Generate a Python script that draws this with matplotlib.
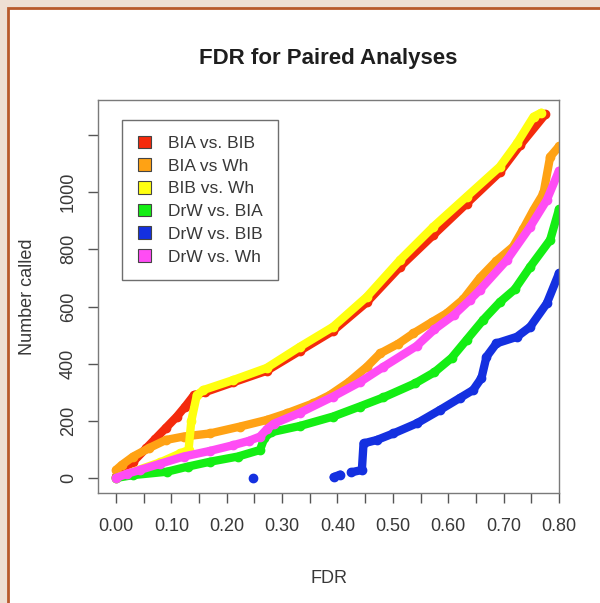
"""FDR for paired analyses: number of calls vs. FDR for six comparisons."""

import matplotlib

matplotlib.use("Agg")
import matplotlib.pyplot as plt
from matplotlib.patches import Patch, Rectangle
import numpy as np

plt.rcParams["font.family"] = ["Liberation Sans", "DejaVu Sans"]

SERIES_NAMES = ["BIA vs. BIB", "BIA vs Wh", "BIB vs. Wh", "DrW vs. BIA", "DrW vs. BIB", "DrW vs. Wh"]
SERIES_COLORS = ["#f42a0c", "#ffa214", "#ffff10", "#14ee14", "#1430e0", "#ff4cf4"]

# one (fdr, count) list per comparison
bia_bib_fdr = [0.0, 0.03, 0.055, 0.07, 0.09, 0.11, 0.125, 0.141, 0.16, 0.212, 0.272, 0.332, 0.392,
               0.453, 0.513, 0.573, 0.633, 0.693, 0.73, 0.775]
bia_bib_n = [5, 55, 105, 135, 175, 215, 250, 290, 300, 335, 375, 445, 515,
             615, 739, 850, 960, 1070, 1165, 1272]

bia_wh_fdr = [0.0, 0.01, 0.031, 0.06, 0.09, 0.122, 0.17, 0.224, 0.272, 0.308, 0.356, 0.386, 0.42,
              0.453, 0.477, 0.51, 0.537, 0.57, 0.597, 0.627, 0.657, 0.687, 0.717, 0.735, 0.754,
              0.772, 0.784, 0.80]
bia_wh_n = [28, 45, 75, 105, 133, 145, 156, 180, 203, 226, 261, 290, 335,
            389, 436, 470, 506, 545, 576, 625, 700, 760, 809, 870, 938,
            996, 1124, 1160]

bib_wh_fdr = [0.0, 0.031, 0.08, 0.116, 0.131, 0.136, 0.146, 0.158, 0.212, 0.272, 0.332, 0.392,
              0.453, 0.513, 0.573, 0.633, 0.693, 0.724, 0.754, 0.768]
bib_wh_n = [0, 22, 55, 86, 98, 200, 290, 308, 343, 385, 459, 529,
            634, 763, 879, 984, 1089, 1171, 1264, 1278]

drw_bia_fdr = [0.0, 0.03, 0.092, 0.13, 0.17, 0.22, 0.26, 0.268, 0.28, 0.332, 0.392, 0.44, 0.483,
               0.54, 0.575, 0.606, 0.633, 0.663, 0.693, 0.72, 0.748, 0.784, 0.80]
drw_bia_n = [0, 10, 22, 40, 57, 75, 98, 140, 160, 182, 215, 250, 282,
             331, 370, 420, 483, 553, 615, 660, 739, 833, 940]

# NaN splits the lone early point and the first small cluster from the rest
drw_bib_fdr = [0.248, np.nan, 0.393, 0.405, np.nan, 0.425, 0.444, 0.447, 0.471, 0.501, 0.543, 0.585,
               0.621, 0.645, 0.66, 0.669, 0.687, 0.724, 0.748, 0.778, 0.80]
drw_bib_n = [0, np.nan, 3, 12, np.nan, 20, 28, 121, 133, 156, 191, 238,
             280, 308, 350, 424, 471, 494, 529, 611, 716]

drw_wh_fdr = [0.0, 0.02, 0.043, 0.08, 0.122, 0.17, 0.212, 0.24, 0.26, 0.272, 0.285, 0.332, 0.392,
              0.44, 0.483, 0.543, 0.575, 0.61, 0.639, 0.657, 0.706, 0.748, 0.778, 0.80]
drw_wh_n = [0, 15, 28, 50, 75, 95, 115, 130, 145, 170, 190, 228, 285,
            335, 389, 462, 520, 570, 623, 658, 763, 879, 973, 1075]

SERIES = [
    (bia_bib_fdr, bia_bib_n),
    (bia_wh_fdr, bia_wh_n),
    (bib_wh_fdr, bib_wh_n),
    (drw_bia_fdr, drw_bia_n),
    (drw_bib_fdr, drw_bib_n),
    (drw_wh_fdr, drw_wh_n),
]

x_ticks = np.round(np.arange(0, 0.801, 0.05), 2)
x_labels = [f"{t:.2f}" if round(t * 100) % 10 == 0 else "" for t in x_ticks]
y_ticks = [0, 200, 400, 600, 800, 1000, 1200]
y_labels = ["0", "200", "400", "600", "800", "1000", ""]

TEXT = "#383838"
AXIS = "#7a7a7a"

fig = plt.figure(figsize=(6.0, 6.03), dpi=100, facecolor="#eedfd4")
# white panel with brown border on left and top, kept behind the axes
fig.patches.append(Rectangle((8 / 600, -0.05), 1.1, 1 - 8 / 603 + 0.05, transform=fig.transFigure,
                             facecolor="white", edgecolor="#b85a2c", linewidth=2.0, zorder=-10))

ax = fig.add_axes([98 / 600, 1 - 493 / 603, 461 / 600, 393 / 603])
ax.set_zorder(1)
ax.set_facecolor("white")

for (fdr, counts), color in zip(SERIES, SERIES_COLORS):
    ax.plot(fdr, counts, color=color, linewidth=6, marker="o", markersize=6,
            solid_capstyle="round", solid_joinstyle="round")

ax.set_xlim(-0.0325, 0.80)
ax.set_ylim(-52.5, 1322.6)
ax.set_xticks(x_ticks)
ax.set_xticklabels(x_labels)
ax.set_yticks(y_ticks)
ax.set_yticklabels(y_labels, rotation=90, va="center")

for spine in ax.spines.values():
    spine.set_color(AXIS)
    spine.set_linewidth(1.0)
ax.tick_params(length=7.2, width=1.0, color="#555555", labelcolor=TEXT, labelsize=13)
ax.tick_params(axis="x", pad=11)
ax.tick_params(axis="y", pad=8)

ax.set_title("FDR for Paired Analyses", fontsize=16, fontweight="bold", color="#1e1e1e", pad=26)
ax.set_xlabel("FDR", fontsize=13, color=TEXT, labelpad=25)
ax.set_ylabel("Number called", fontsize=13, color=TEXT, labelpad=17)

handles = [Patch(facecolor=c, edgecolor="#444444", linewidth=0.8) for c in SERIES_COLORS]
leg = ax.legend(handles, SERIES_NAMES, loc="upper left", bbox_to_anchor=(0.052, 0.949),
                borderaxespad=0, fancybox=False, framealpha=1, edgecolor="#6e6e6e",
                fontsize=12.5, handlelength=0.75, handleheight=0.75, handletextpad=1.0,
                labelspacing=0.42, borderpad=0.9)
leg.get_frame().set_linewidth(1.0)
for text in leg.get_texts():
    text.set_color(TEXT)

fig.savefig("out.png", dpi=100, facecolor=fig.get_facecolor())
